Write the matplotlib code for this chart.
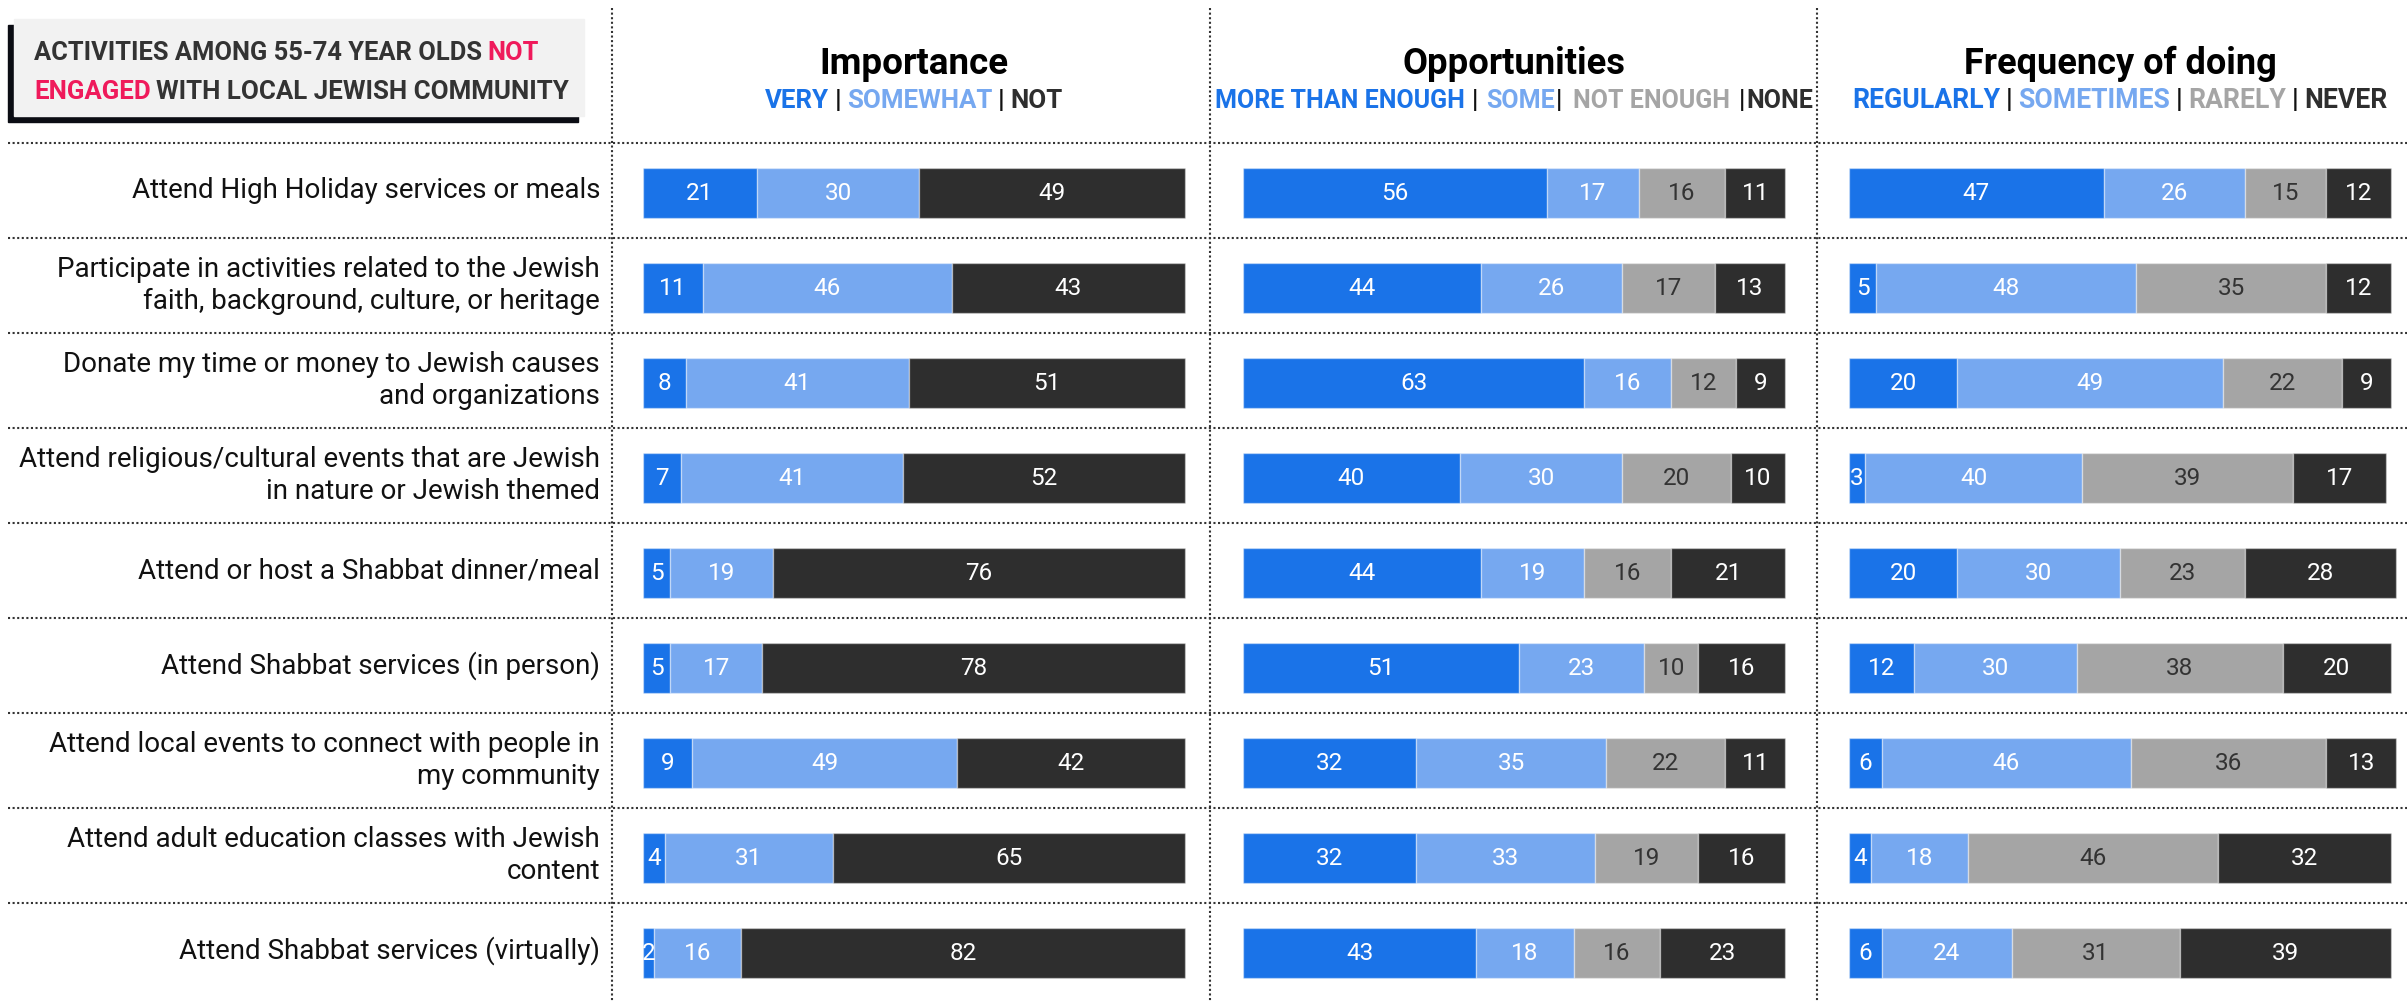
import matplotlib
matplotlib.use("Agg")
import matplotlib.pyplot as plt
from matplotlib.patches import Rectangle
import numpy as np

# ---- data ----
labels = [
    "Attend High Holiday services or meals",
    "Participate in activities related to the Jewish\nfaith, background, culture, or heritage",
    "Donate my time or money to Jewish causes\nand organizations",
    "Attend religious/cultural events that are Jewish\nin nature or Jewish themed",
    "Attend or host a Shabbat dinner/meal",
    "Attend Shabbat services (in person)",
    "Attend local events to connect with people in\nmy community",
    "Attend adult education classes with Jewish\ncontent",
    "Attend Shabbat services (virtually)",
]

imp_very = [21, 11, 8, 7, 5, 5, 9, 4, 2]
imp_somewhat = [30, 46, 41, 41, 19, 17, 49, 31, 16]
imp_not = [49, 43, 51, 52, 76, 78, 42, 65, 82]

opp_more = [56, 44, 63, 40, 44, 51, 32, 32, 43]
opp_some = [17, 26, 16, 30, 19, 23, 35, 33, 18]
opp_not_enough = [16, 17, 12, 20, 16, 10, 22, 19, 16]
opp_none = [11, 13, 9, 10, 21, 16, 11, 16, 23]

freq_regularly = [47, 5, 20, 3, 20, 12, 6, 4, 6]
freq_sometimes = [26, 48, 49, 40, 30, 30, 46, 18, 24]
freq_rarely = [15, 35, 22, 39, 23, 38, 36, 46, 31]
freq_never = [12, 12, 9, 17, 28, 20, 13, 32, 39]

BLUE = "#1a73e8"
LIGHT = "#76a8f0"
GRAY = "#a5a5a5"
DARK = "#2e2e2e"
RED = "#ef1a5b"
TXT = "#333333"

HEAD_FONT = ["Roboto", "DejaVu Sans"]
BODY_FONT = ["Roboto", "DejaVu Sans"]

W, H = 2407, 1002
fig = plt.figure(figsize=(W / 100, H / 100), dpi=100)
ax0 = fig.add_axes([0, 0, 1, 1])
ax0.set_xlim(0, W)
ax0.set_ylim(H, 0)
ax0.axis("off")
renderer = fig.canvas.get_renderer()


def width_of(t):
    return t.get_window_extent(renderer).width


def colored_line(x, y, pieces, gaps, target, ha="center", size=20):
    # pieces of text in different colours on one baseline, scaled to a target width
    texts = [ax0.text(0, y, s, color=c, fontsize=size, family=HEAD_FONT,
                      fontweight="bold", va="baseline", ha="left", zorder=3)
             for s, c in pieces]
    total = sum(width_of(t) for t in texts) + sum(gaps) * size
    size *= target / total
    for t in texts:
        t.set_fontsize(size)
    ws = [width_of(t) for t in texts]
    total = sum(ws) + sum(gaps) * size
    cx = x - total / 2 if ha == "center" else x
    for i, t in enumerate(texts):
        t.set_x(cx)
        cx += ws[i] + (gaps[i] * size if i < len(gaps) else 0)
    return size


# ---- title box ----
ax0.add_patch(Rectangle((8, 25), 570, 97, color="#0b0d14", zorder=1))
ax0.add_patch(Rectangle((14, 19), 570, 97, color="#f2f2f2", zorder=2))
tsize = colored_line(34, 60, [("ACTIVITIES AMONG 55-74 YEAR OLDS", TXT), ("NOT", RED)],
                     [0.3], 504, ha="left")
colored_line(34, 99, [("ENGAGED", RED), ("WITH LOCAL JEWISH COMMUNITY", TXT)],
             [0.3], 535, ha="left", size=tsize)

# ---- dotted grid ----
row_top, row_h = 143, 95
for k in range(9):
    ax0.plot([8, W], [row_top + k * row_h] * 2, color="#333333", lw=1.5,
             linestyle=(0, (1, 1.2)))
for xv in [612, 1210, 1817]:
    ax0.plot([xv, xv], [8, H], color="#333333", lw=1.5, linestyle=(0, (1, 1.2)))

# ---- row labels ----
ref = ax0.text(0, 0, labels[1].split("\n")[0], fontsize=18, family=BODY_FONT)
lab_size = 18 * 542 / width_of(ref)
ref.remove()
for i, lab in enumerate(labels):
    ax0.text(600, row_top + row_h * (i + 0.5), lab, ha="right", va="center",
             multialignment="right", fontsize=lab_size, family=BODY_FONT,
             color="#111111", linespacing=1.2)

# ---- panels ----
panels = [
    ("Importance", 643, 189, [imp_very, imp_somewhat, imp_not], [BLUE, LIGHT, DARK],
     [("VERY", BLUE), ("|", "#111111"), ("SOMEWHAT", LIGHT), ("|", "#111111"), ("NOT", DARK)],
     [0.3, 0.3, 0.3, 0.3], 297),
    ("Opportunities", 1243, 223, [opp_more, opp_some, opp_not_enough, opp_none],
     [BLUE, LIGHT, GRAY, DARK],
     [("MORE THAN ENOUGH", BLUE), ("|", "#111111"), ("SOME", LIGHT), ("|", "#111111"),
      ("NOT ENOUGH", GRAY), ("|", "#111111"), ("NONE", DARK)],
     [0.4, 0.4, 0.05, 0.6, 0.5, 0.05], 595),
    ("Frequency of doing", 1849, 313, [freq_regularly, freq_sometimes, freq_rarely, freq_never],
     [BLUE, LIGHT, GRAY, DARK],
     [("REGULARLY", BLUE), ("|", "#111111"), ("SOMETIMES", LIGHT), ("|", "#111111"),
      ("RARELY", GRAY), ("|", "#111111"), ("NEVER", DARK)],
     [0.3, 0.3, 0.3, 0.3, 0.3, 0.3], 536),
]

pw = 542
y = np.arange(len(labels)) + 0.53
for title, x0, title_w, series, colors, sub, gaps, sub_w in panels:
    ax = fig.add_axes([x0 / W, (H - 998) / H, pw / W, 855 / H])
    ax.patch.set_alpha(0)
    ax.set_xlim(0, 100)
    ax.set_ylim(len(labels), 0)
    ax.axis("off")
    left = np.zeros(len(labels))
    for vals, col in zip(series, colors):
        vals = np.array(vals)
        ax.barh(y, vals, left=left, height=0.526, color=col,
                edgecolor=(1, 1, 1, 0.4), linewidth=1, clip_on=False)
        tc = TXT if col == GRAY else "white"
        for yi, l, v in zip(y, left, vals):
            ax.text(l + v / 2, yi, str(v), ha="center", va="center", color=tc,
                    fontsize=17.5, family=BODY_FONT, clip_on=False)
        left += vals

    cx = x0 + pw / 2
    t = ax0.text(cx, 74, title, ha="center", va="baseline", fontsize=28,
                 fontweight="bold", family=HEAD_FONT, color="black")
    t.set_fontsize(28 * title_w / width_of(t))
    colored_line(cx, 108, sub, gaps, sub_w)

fig.savefig("out.png", dpi=100)
